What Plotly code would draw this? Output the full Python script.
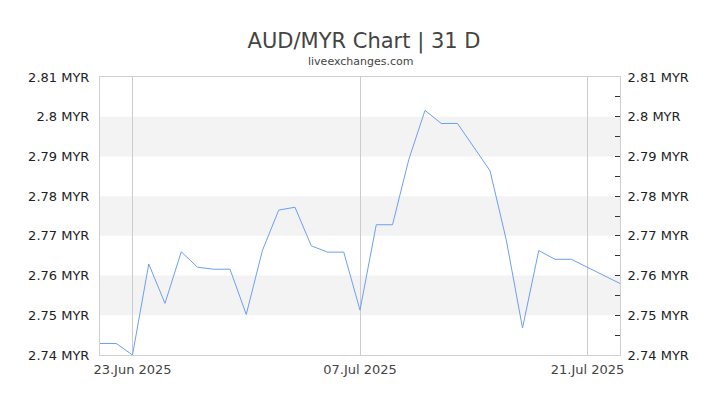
import pandas as pd
import plotly.graph_objects as go

# Daily AUD/MYR closes
dates = pd.date_range("2025-06-21", "2025-07-23", freq="D")
rates = [
    2.7429, 2.7429, 2.7400, 2.7629, 2.7530, 2.7660, 2.7621, 2.7616, 2.7616,
    2.7502, 2.7664, 2.7765, 2.7772, 2.7675, 2.7659, 2.7659, 2.7513, 2.7728,
    2.7728, 2.7892, 2.8016, 2.7983, 2.7983, 2.7924, 2.7864, 2.7690, 2.7468,
    2.7663, 2.7641, 2.7641, 2.7621, 2.7600, 2.7580,
]

# Axis ticks
x_tick_dates = ["2025-06-23", "2025-07-07", "2025-07-21"]
x_tick_text = ["23.Jun 2025", "07.Jul 2025", "21.Jul 2025"]
y_tick_vals = [2.74, 2.75, 2.76, 2.77, 2.78, 2.79, 2.80, 2.81]
y_tick_text = ["2.74 MYR", "2.75 MYR", "2.76 MYR", "2.77 MYR",
               "2.78 MYR", "2.79 MYR", "2.8 MYR", "2.81 MYR"]

# Shaded horizontal bands (lower, upper)
bands = [(2.75, 2.76), (2.77, 2.78), (2.79, 2.80)]

y_range = [2.74, 2.81]
x_range = [dates[0], dates[-1]]

fig = go.Figure()

fig.add_trace(go.Scatter(
    x=dates, y=rates, mode="lines",
    line=dict(color="#6d9ff0", width=1),
    showlegend=False, hoverinfo="x+y",
))
# invisible copy so the right-hand axis is drawn
fig.add_trace(go.Scatter(
    x=dates, y=rates, mode="lines", yaxis="y2",
    line=dict(color="rgba(0,0,0,0)", width=0),
    showlegend=False, hoverinfo="skip",
))

for lo, hi in bands:
    fig.add_shape(type="rect", xref="paper", yref="y", x0=0, x1=1, y0=lo, y1=hi,
                  fillcolor="#f3f3f3", line_width=0, layer="below")

font = "DejaVu Sans, Verdana, sans-serif"

# page body adds an 8px margin, so the figure is 8px smaller than the window
fig.update_layout(
    width=712, height=397,
    margin=dict(l=92, r=100, t=69, b=50),
    paper_bgcolor="white", plot_bgcolor="white",
    font=dict(family=font, color="#222222", size=13),
    title=dict(text="AUD/MYR Chart | 31 D", x=0.5, xanchor="center",
               y=0.919, yanchor="middle", yref="container",
               font=dict(size=21, color="#444444")),
    annotations=[dict(text="liveexchanges.com", xref="paper", yref="paper",
                      x=0.5, y=1.054, yanchor="middle", showarrow=False,
                      font=dict(size=11, color="#444444"))],
    xaxis=dict(
        range=x_range, tickvals=x_tick_dates, ticktext=x_tick_text,
        showgrid=True, gridcolor="#cccccc", gridwidth=1,
        showline=True, linecolor="#d0d0d0", mirror=True,
        ticks="", ticklabelstandoff=2,
        tickfont=dict(size=13, color="#444444"), zeroline=False,
    ),
    yaxis=dict(
        range=y_range, tickvals=y_tick_vals, ticktext=y_tick_text,
        showgrid=False, zeroline=False,
        showline=True, linecolor="#d0d0d0",
        ticks="", ticklabelstandoff=7,
        tickfont=dict(size=13, color="#222222"),
    ),
    yaxis2=dict(
        range=y_range, tickvals=y_tick_vals, ticktext=y_tick_text,
        overlaying="y", side="right", showgrid=False, zeroline=False,
        showline=True, linecolor="#d0d0d0",
        ticks="inside", ticklen=5, tickcolor="#333333",
        minor=dict(ticks="inside", dtick=0.005, tick0=2.74, ticklen=5,
                   tickcolor="#333333"),
        ticklabelstandoff=4,
        tickfont=dict(size=13, color="#222222"),
    ),
)

fig.write_html("out.html")
